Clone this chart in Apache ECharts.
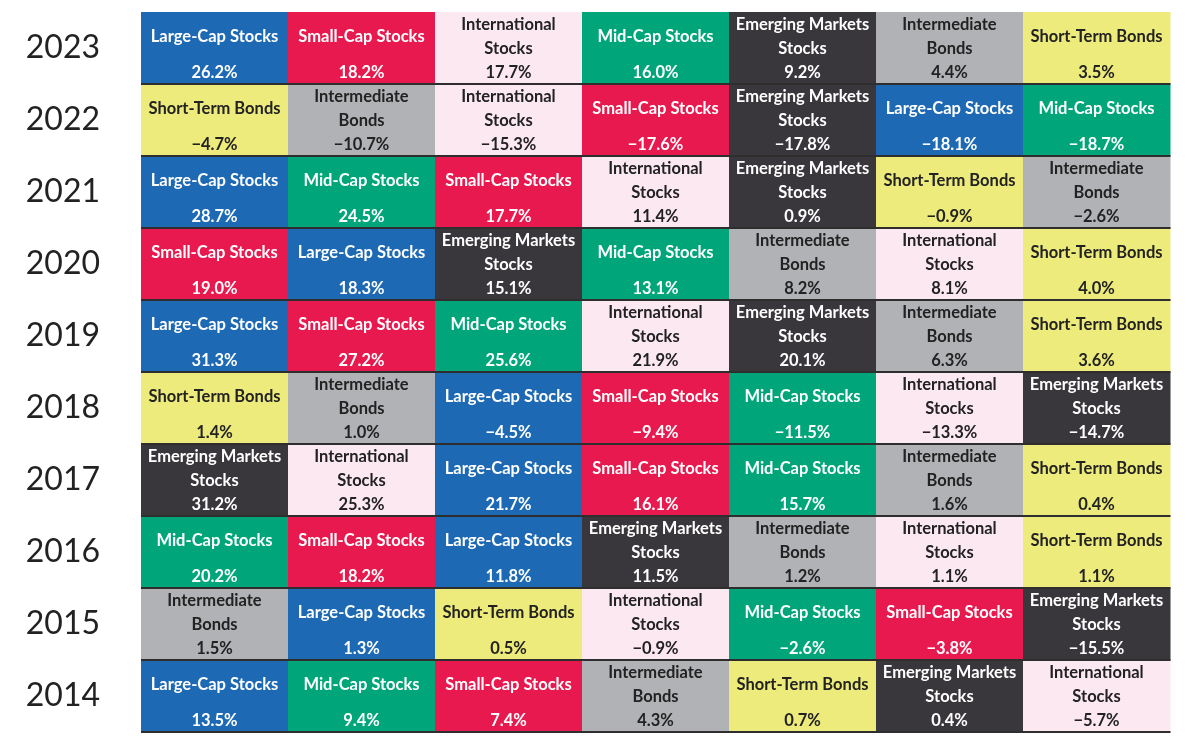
<!DOCTYPE html>
<html>
<head>
<meta charset="utf-8">
<script src="https://cdn.jsdelivr.net/npm/echarts@6/dist/echarts.min.js"></script>
<style>
  html, body { margin: 0; padding: 0; background: #fff; }
  #main { width: 1200px; height: 750px; }
</style>
</head>
<body>
<div id="main"></div>
<script>
// 年份（从上到下）
var years = ['2023', '2022', '2021', '2020', '2019', '2018', '2017', '2016', '2015', '2014'];

// 资产类别
var assetNames = ['Large-Cap Stocks', 'Small-Cap Stocks', 'International\nStocks', 'Mid-Cap Stocks',
    'Emerging Markets\nStocks', 'Intermediate\nBonds', 'Short-Term Bonds'];
var assetColors = ['#1e69b4', '#e8194e', '#fce8f1', '#00a67a', '#39373b', '#b1b2b5', '#edeb7b'];
var assetText = ['#fff', '#fff', '#222', '#fff', '#fff', '#222', '#222'];

// 每年排名顺序（资产序号）
// 0 大盘 1 小盘 2 国际 3 中盘 4 新兴市场 5 中期债 6 短期债
var order = [
    [0, 1, 2, 3, 4, 5, 6],
    [6, 5, 2, 1, 4, 0, 3],
    [0, 3, 1, 2, 4, 6, 5],
    [1, 0, 4, 3, 5, 2, 6],
    [0, 1, 3, 2, 4, 5, 6],
    [6, 5, 0, 1, 3, 2, 4],
    [4, 2, 0, 1, 3, 5, 6],
    [3, 1, 0, 4, 5, 2, 6],
    [5, 0, 6, 2, 3, 1, 4],
    [0, 3, 1, 5, 6, 4, 2]
];

// 年度收益 %
var returns = [
    [26.2, 18.2, 17.7, 16.0, 9.2, 4.4, 3.5],
    [-4.7, -10.7, -15.3, -17.6, -17.8, -18.1, -18.7],
    [28.7, 24.5, 17.7, 11.4, 0.9, -0.9, -2.6],
    [19.0, 18.3, 15.1, 13.1, 8.2, 8.1, 4.0],
    [31.3, 27.2, 25.6, 21.9, 20.1, 6.3, 3.6],
    [1.4, 1.0, -4.5, -9.4, -11.5, -13.3, -14.7],
    [31.2, 25.3, 21.7, 16.1, 15.7, 1.6, 0.4],
    [20.2, 18.2, 11.8, 11.5, 1.2, 1.1, 1.1],
    [1.5, 1.3, 0.5, -0.9, -2.6, -3.8, -15.5],
    [13.5, 9.4, 7.4, 4.3, 0.7, 0.4, -5.7]
];

var ranks = ['1', '2', '3', '4', '5', '6', '7'];

var data = [];
years.forEach(function (y, i) {
    order[i].forEach(function (a, j) {
        data.push([j, i, a, returns[i][j]]);
    });
});

function fmt(v) {
    return v.toFixed(1).replace('-', '\u2212') + '%';
}

var font = 'Lato, "Open Sans", sans-serif';

var myChart = echarts.init(document.getElementById('main'));
myChart.setOption({
    backgroundColor: '#fff',
    animation: false,
    grid: { left: 141, right: 30, top: 12, bottom: 18 },
    xAxis: {
        type: 'category',
        data: ranks,
        show: false
    },
    yAxis: {
        type: 'category',
        data: years,
        inverse: true,
        axisLine: { show: false },
        axisTick: { show: false },
        axisLabel: {
            margin: 41,
            fontSize: 32,
            color: '#222',
            fontFamily: font
        }
    },
    series: [{
        type: 'custom',
        data: data,
        renderItem: function (params, api) {
            var c = api.coord([api.value(0), api.value(1)]);
            var s = api.size([1, 1]);
            var a = api.value(2);
            var x0 = c[0] - s[0] / 2, y0 = c[1] - s[1] / 2;
            var col = assetText[a];
            return {
                type: 'group',
                children: [{
                    type: 'rect',
                    shape: { x: x0, y: y0, width: s[0] + 0.5, height: s[1] },
                    style: { fill: assetColors[a] }
                }, {
                    type: 'line',
                    shape: { x1: x0, y1: y0 + s[1], x2: x0 + s[0] + 0.5, y2: y0 + s[1] },
                    style: { stroke: '#2e2e2e', lineWidth: 2 },
                    z2: 5
                }, {
                    type: 'text',
                    x: c[0],
                    y: c[1] - 11,
                    style: {
                        text: assetNames[a],
                        fill: col,
                        font: 'bold 16.5px ' + font,
                        lineHeight: 24,
                        align: 'center',
                        verticalAlign: 'middle'
                    },
                    z2: 6
                }, {
                    type: 'text',
                    x: c[0],
                    y: c[1] + 25,
                    style: {
                        text: fmt(api.value(3)),
                        fill: col,
                        font: 'bold 16.5px ' + font,
                        align: 'center',
                        verticalAlign: 'middle'
                    },
                    z2: 6
                }]
            };
        }
    }]
});
</script>
</body>
</html>
